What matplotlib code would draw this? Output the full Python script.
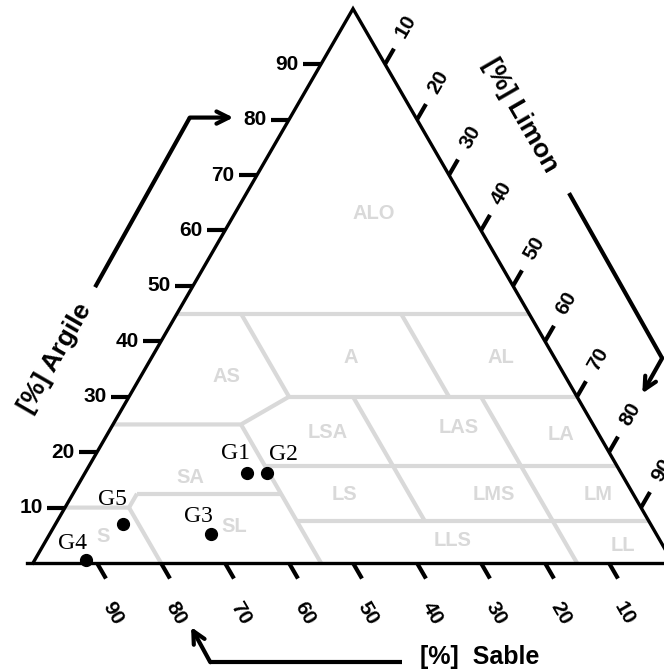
import numpy as np
import matplotlib
matplotlib.use("Agg")
import matplotlib.pyplot as plt

# echantillons : % sable, % argile (limon = reste)
noms = ["G1", "G2", "G3", "G4", "G5"]
sable = [58.5, 55.3, 69.6, 91.4, 82.5]
argile = [16.2, 16.3, 5.2, 0.5, 7.0]
# decalage des etiquettes (points)
dx_lab = [-8, 12, -9, -10, -7]
dy_lab = [14, 13, 13, 12, 18]

# limites des classes GEPPA, polylignes en (sable, argile)
limites = [
    [(55, 45), (0, 45)],
    [(45, 30), (0, 30)],
    [(75, 25), (55, 25), (45, 30), (45, 45)],
    [(20, 45), (20, 30)],
    [(55, 25), (55, 0)],
    [(55, 17.5), (0, 17.5)],
    [(35, 30), (35, 7.5)],
    [(55, 7.5), (0, 7.5)],
    [(15, 30), (15, 0)],
    [(77.5, 12.5), (55, 12.5)],
    [(90, 10), (80, 10), (77.5, 12.5)],
    [(80, 10), (80, 0)],
]

classes = ["ALO", "AS", "A", "AL", "LSA", "LAS", "LA", "SA",
           "LS", "LMS", "LM", "SL", "S", "LLS", "LL"]
cl_sable = [15.2, 53, 31.8, 8.4, 42.1, 21.3, 5.9, 67.7,
            45.2, 21.8, 5.6, 65.3, 86.7, 32.3, 6.2]
cl_argile = [63.1, 33.6, 37, 37, 23.6, 24.5, 23.1, 15.5,
             12.3, 12.3, 12.3, 6.5, 4.7, 4.15, 3.25]

graduations = [10, 20, 30, 40, 50, 60, 70, 80, 90]

H = np.sqrt(3) / 2


def tern(s, c):
    s = np.asarray(s, dtype=float)
    c = np.asarray(c, dtype=float)
    lim = 100 - s - c
    return lim + c / 2, c * H


gris = "#d9d9d9"
sans = "Liberation Sans"

fig = plt.figure(figsize=(6.64, 6.69), dpi=100)
ax = fig.add_axes([0, 0, 1, 1])
ax.set_xlim(-5.156, 98.59)
ax.set_ylim(-16.56, 87.97)
ax.axis("off")

# limites des classes
for pl in limites:
    s, c = zip(*pl)
    x, y = tern(s, c)
    ax.plot(x, y, color=gris, lw=3, solid_capstyle="butt", zorder=1)

for nom, s, c in zip(classes, cl_sable, cl_argile):
    x, y = tern(s, c)
    ax.text(x, y, nom, color=gris, fontsize=14.5, fontweight="bold",
            family=sans, ha="center", va="center", zorder=1)

# triangle
ax.plot([0, 50, 100], [0, 100 * H, 0], color="k", lw=2.4, zorder=3,
        solid_joinstyle="miter")
ax.plot([-1, 100], [0, 0], color="k", lw=2.4, zorder=3)

t = 2.8
for v in graduations:
    # argile (gauche)
    x, y = v / 2, v * H
    ax.plot([x - t, x], [y, y], color="k", lw=3, solid_capstyle="butt")
    ax.text(x - 3.5, y, str(v), fontsize=15, fontweight="bold", family=sans,
            ha="right", va="center")
    # sable (bas)
    x, y = 100 - v, 0
    ax.plot([x, x + 0.5 * t], [y, y - H * t], color="k", lw=3,
            solid_capstyle="butt")
    ax.text(x + 2.4, y - 7.9, str(v), fontsize=15, fontweight="bold",
            family=sans, ha="center", va="center", rotation=-60)
    # limon (droite)
    x, y = 50 + v / 2, (100 - v) * H
    ax.plot([x, x + 0.5 * t], [y, y + H * t], color="k", lw=3,
            solid_capstyle="butt")
    ax.text(x + 3.3, y + 5.9, str(v), fontsize=15, fontweight="bold",
            family=sans, ha="center", va="center", rotation=60)

# titres des axes
ax.text(3.44, 32.0, "[%] Argile", fontsize=19, fontweight="bold", family=sans,
        rotation=60, ha="center", va="center")
ax.text(76.1, 70.0, "[%] Limon", fontsize=19, fontweight="bold", family=sans,
        rotation=-60, ha="center", va="center")
ax.text(69.8, -14.7, "[%]  Sable", fontsize=18, fontweight="bold", family=sans,
        ha="center", va="center")

# fleches
fleches = [
    [(9.7, 43.1), (24.5, 69.6), (31.3, 69.6)],
    [(83.75, 57.8), (98.3, 32.0), (95.2, 26.5)],
    [(57.7, -15.5), (27.7, -15.5), (24.7, -10.0)],
]
for f in fleches:
    xs, ys = zip(*f)
    ax.plot(xs[:-1], ys[:-1], color="k", lw=3, solid_capstyle="butt")
    ax.annotate("", xy=f[-1], xytext=f[-2],
                arrowprops=dict(arrowstyle="->", lw=3, color="k",
                                mutation_scale=22, shrinkA=0, shrinkB=0))

# echantillons
x, y = tern(sable, argile)
ax.plot(x, y, "o", color="k", ms=8.5, zorder=5)
for nom, xi, yi, dx, dy in zip(noms, x, y, dx_lab, dy_lab):
    ax.annotate(nom, (xi, yi), xytext=(dx, dy), textcoords="offset points",
                fontsize=17, family="Liberation Serif", ha="center",
                va="center", zorder=5)

fig.savefig("out.png", dpi=100)
